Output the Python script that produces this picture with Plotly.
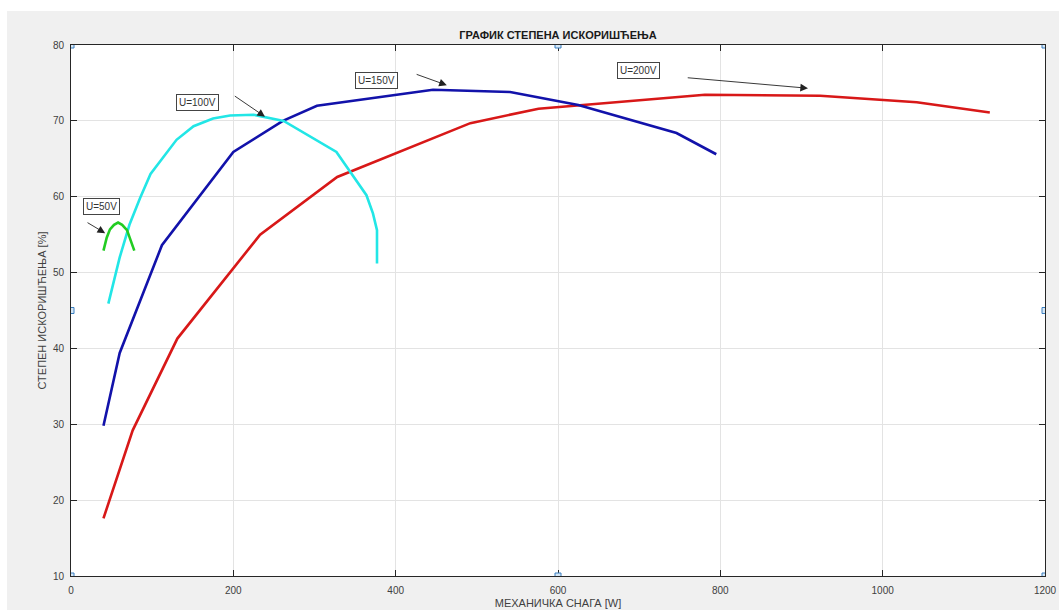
import plotly.graph_objects as go

# --- data ---
p_200 = [40, 76, 131, 233, 328, 492, 576, 781, 923, 1042, 1132]
eta_200 = [17.6, 29.2, 41.3, 55.0, 62.6, 69.7, 71.6, 73.45, 73.3, 72.45, 71.1]

p_150 = [40, 60, 112, 200, 261, 303, 446, 475, 541, 625, 746, 795]
eta_150 = [29.8, 39.4, 53.6, 65.9, 70.0, 72.0, 74.1, 74.0, 73.8, 72.1, 68.4, 65.6]

p_100 = [46, 60, 72, 85, 98, 114, 130, 151, 175, 196, 225, 262, 327, 364, 372, 377, 377]
eta_100 = [45.9, 52.0, 56.3, 59.8, 63.0, 65.2, 67.5, 69.3, 70.3, 70.7, 70.8, 70.0, 65.9, 60.2, 57.8, 55.6, 51.2]

p_50 = [40, 44, 48, 53, 58, 63, 69, 73, 78]
eta_50 = [52.9, 54.6, 55.7, 56.3, 56.6, 56.3, 55.6, 54.4, 52.9]

labels = ["U=50V", "U=100V", "U=150V", "U=200V"]
label_x = [37.8, 156.3, 376.4, 699.7]
label_y = [58.7, 72.4, 75.3, 76.6]
arrow_tail_x = [18.5, 200, 424, 758]
arrow_tail_y = [56.7, 73.4, 76.2, 75.7]
arrow_head_x = [42.1, 239, 463, 908]
arrow_head_y = [55.2, 70.55, 74.7, 74.3]

x_ticks = [0, 200, 400, 600, 800, 1000, 1200]
y_ticks = [10, 20, 30, 40, 50, 60, 70, 80]

fig = go.Figure()
series = [
    (p_200, eta_200, "#d81818"),
    (p_150, eta_150, "#1212aa"),
    (p_100, eta_100, "#22e6e6"),
    (p_50, eta_50, "#22cc22"),
]
for xs, ys, c in series:
    fig.add_trace(go.Scatter(x=xs, y=ys, mode="lines",
                             line=dict(color=c, width=2.6), showlegend=False,
                             hoverinfo="skip"))

font = "Liberation Sans, Arial, Helvetica, sans-serif"
annotations = []
for t, lx, ly in zip(labels, label_x, label_y):
    annotations.append(dict(x=lx, y=ly, xref="x", yref="y", text=t, showarrow=False,
                            font=dict(family=font, size=10, color="#333333"),
                            bgcolor="white", bordercolor="#444444", borderwidth=1,
                            borderpad=2))
for tx, ty, hx, hy in zip(arrow_tail_x, arrow_tail_y, arrow_head_x, arrow_head_y):
    annotations.append(dict(x=hx, y=hy, ax=tx, ay=ty, xref="x", yref="y",
                            axref="x", ayref="y", text="", showarrow=True,
                            arrowhead=2, arrowsize=1.7, arrowwidth=0.9,
                            arrowcolor="#222222", standoff=0, startstandoff=0))

W, H = 1059, 610
L, R, T, B = 71, 14, 45, 34
PW, PH = W - L - R, H - T - B

# selection handles
shapes = []
for hx, hy in [(0, 80), (600, 80), (1200, 80), (0, 45), (1200, 45), (0, 10), (600, 10), (1200, 10)]:
    shapes.append(dict(type="rect", xref="x", yref="y", xsizemode="pixel", ysizemode="pixel",
                       xanchor=hx, yanchor=hy, x0=-3, x1=3, y0=-3, y1=3,
                       fillcolor="#d6e8f7", line=dict(color="#3a7fc0", width=1), layer="above"))
# white strips at the top and left edge of the picture
shapes.append(dict(type="rect", xref="paper", yref="paper",
                   x0=-L / PW, x1=1 + R / PW, y0=1 + (T - 11) / PH, y1=1 + T / PH,
                   fillcolor="white", line=dict(width=0), layer="below"))
shapes.append(dict(type="rect", xref="paper", yref="paper",
                   x0=-L / PW, x1=-(L - 7) / PW, y0=-B / PH, y1=1 + T / PH,
                   fillcolor="white", line=dict(width=0), layer="below"))

fig.update_layout(
    width=W, height=H,
    margin=dict(l=L, r=R, t=T, b=B, autoexpand=False),
    paper_bgcolor="#f0f0f0", plot_bgcolor="white",
    font=dict(family=font, size=10, color="#404040"),
    title=dict(text="<b>ГРАФИК СТЕПЕНА ИСКОРИШЋЕЊА</b>", x=(L + PW / 2) / W, xanchor="center",
               y=1 - 35 / H, yanchor="middle",
               font=dict(family=font, size=11, color="#1a1a1a")),
    xaxis=dict(range=[0, 1200], tickvals=x_ticks, ticks="inside", ticklen=6,
               tickcolor="#262626", showline=True, linecolor="#262626", linewidth=1,
               mirror="ticks", showgrid=True, gridcolor="#e3e3e3", zeroline=False,
               tickfont=dict(size=10, color="#404040"), ticklabelstandoff=5,
               ticklabeloverflow="allow",
               title=dict(text="МЕХАНИЧКА СНАГА [W]", standoff=4,
                          font=dict(size=11, color="#404040"))),
    yaxis=dict(range=[10, 80], tickvals=y_ticks, ticks="inside", ticklen=6,
               tickcolor="#262626", showline=True, linecolor="#262626", linewidth=1,
               mirror="ticks", showgrid=True, gridcolor="#e3e3e3", zeroline=False,
               tickfont=dict(size=10, color="#404040"), ticklabelstandoff=4,
               ticklabeloverflow="allow",
               title=dict(text="СТЕПЕН ИСКОРИШЋЕЊА [%]", standoff=4,
                          font=dict(size=11, color="#404040"))),
    annotations=annotations,
    shapes=shapes,
)

fig.write_html("out.html", config={"displayModeBar": False},
               post_script="document.body.style.margin='0';document.body.style.overflow='hidden';")
